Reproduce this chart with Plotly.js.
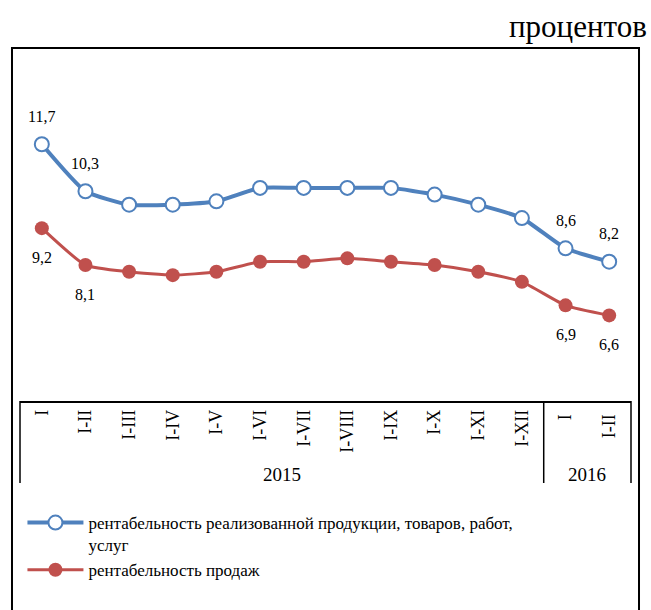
<!DOCTYPE html>
<html>
<head>
<meta charset="utf-8">
<script src="https://cdn.plot.ly/plotly-3.0.1.min.js"></script>
<style>html,body{margin:0;padding:0;background:#fff;}#chart{width:651px;height:610px;}</style>
</head>
<body>
<div id="chart"></div>
<script>
// ---- data ----
const periods = ["I", "I-II", "I-III", "I-IV", "I-V", "I-VI", "I-VII", "I-VIII", "I-IX", "I-X", "I-XI", "I-XII", "I ", "I-II "];
const years = ["2015", "2016"];
const yearCenters = [5.5, 12.5];
const profitProducts = [11.7, 10.3, 9.9, 9.9, 10.0, 10.4, 10.4, 10.4, 10.4, 10.2, 9.9, 9.5, 8.6, 8.2];
const profitSales = [9.2, 8.1, 7.9, 7.8, 7.9, 8.2, 8.2, 8.3, 8.2, 8.1, 7.9, 7.6, 6.9, 6.6];
const labelledIdx = [0, 1, 12, 13];
const nameProducts = "рентабельность реализованной продукции, товаров, работ,<br>услуг";
const nameSales = "рентабельность продаж";
const unitText = "процентов";

const FONT = "Liberation Serif, Times New Roman, serif";
const BLUE = "#4F81BD";
const RED = "#C0504D";
const fmt = v => v.toFixed(1).replace(".", ",");

const traces = [
  {
    x: periods, y: profitProducts, type: "scatter", mode: "lines+markers",
    name: nameProducts,
    line: {color: BLUE, width: 4, shape: "spline", smoothing: 0.5},
    marker: {symbol: "circle", size: 14, color: "#ffffff", line: {color: BLUE, width: 2}},
    hoverinfo: "skip"
  },
  {
    x: periods, y: profitSales, type: "scatter", mode: "lines+markers",
    name: nameSales,
    line: {color: RED, width: 3, shape: "spline", smoothing: 0.5},
    marker: {symbol: "circle", size: 14, color: RED},
    hoverinfo: "skip"
  }
];

const annotations = [];
labelledIdx.forEach(i => {
  annotations.push({x: i, y: profitProducts[i], xref: "x", yref: "y", text: fmt(profitProducts[i]),
    showarrow: false, yshift: 28, font: {family: FONT, size: 16, color: "#000"}});
  annotations.push({x: i, y: profitSales[i], xref: "x", yref: "y", text: fmt(profitSales[i]),
    showarrow: false, yshift: -29, font: {family: FONT, size: 16, color: "#000"}});
});
years.forEach((yr, k) => {
  annotations.push({x: yearCenters[k], y: -0.217, xref: "x", yref: "paper", text: yr,
    showarrow: false, yanchor: "middle", font: {family: FONT, size: 19, color: "#000"}});
});
annotations.push({x: 1.03, y: 1.097, xref: "paper", yref: "paper", text: unitText,
  xanchor: "right", yanchor: "middle", showarrow: false, font: {family: FONT, size: 31, color: "#000"}});

const shapes = [
  {type: "line", xref: "paper", yref: "paper", x0: 0, x1: 0, y0: 0, y1: -0.2405, line: {color: "#000", width: 1.5}},
  {type: "line", xref: "paper", yref: "paper", x0: 12/14, x1: 12/14, y0: 0, y1: -0.2405, line: {color: "#000", width: 1.5}},
  {type: "line", xref: "paper", yref: "paper", x0: 1, x1: 1, y0: 0, y1: -0.2405, line: {color: "#000", width: 1.5}},
  {type: "rect", xref: "paper", yref: "paper", x0: -0.0131, x1: 1.0131, y0: -0.66, y1: 1.0352, line: {color: "#000", width: 2}, fillcolor: "rgba(0,0,0,0)"}
];

const layout = {
  width: 651, height: 610,
  margin: {l: 20, r: 20, t: 60, b: 209, pad: 0},
  paper_bgcolor: "#fff", plot_bgcolor: "#fff",
  font: {family: FONT, color: "#000"},
  showlegend: true,
  legend: {x: 0.004, y: -0.305, xanchor: "left", yanchor: "top", orientation: "v",
    font: {family: FONT, size: 17, color: "#000"}, valign: "top", itemwidth: 56,
    bgcolor: "rgba(0,0,0,0)", tracegroupgap: 0},
  xaxis: {type: "category", range: [-0.5, 13.5], tickangle: -90, showline: true, linecolor: "#000", linewidth: 1.5,
    ticks: "", showgrid: false, zeroline: false, fixedrange: true,
    tickfont: {family: FONT, size: 18, color: "#000"}},
  yaxis: {visible: false, range: [4.05, 14.21], fixedrange: true, showgrid: false, zeroline: false},
  annotations: annotations,
  shapes: shapes
};

Plotly.newPlot("chart", traces, layout, {displayModeBar: false, staticPlot: true});
</script>
</body>
</html>
